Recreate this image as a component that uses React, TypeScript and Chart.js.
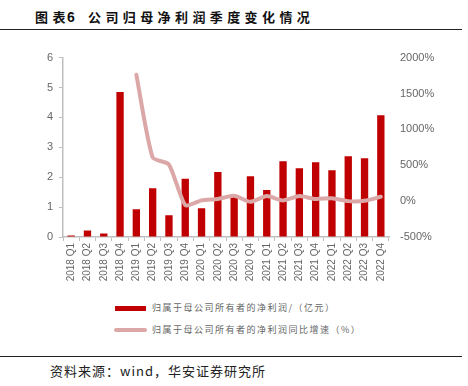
import React, { useEffect, useRef } from "react";
import { Chart, registerables } from "chart.js";

Chart.register(...registerables);

const categories = [
  "2018 Q1", "2018 Q2", "2018 Q3", "2018 Q4",
  "2019 Q1", "2019 Q2", "2019 Q3", "2019 Q4",
  "2020 Q1", "2020 Q2", "2020 Q3", "2020 Q4",
  "2021 Q1", "2021 Q2", "2021 Q3", "2021 Q4",
  "2022 Q1", "2022 Q2", "2022 Q3", "2022 Q4",
];
const netProfit = [
  0.05, 0.22, 0.12, 4.85,
  0.93, 1.63, 0.73, 1.95,
  0.96, 2.17, 1.35, 2.03,
  1.57, 2.53, 2.3, 2.5,
  2.23, 2.7, 2.63, 4.07,
];
const growthPct = [
  null, null, null, null,
  1760, 610, 510, -55,
  10, 30, 75, -10,
  70, 10, 70, 30,
  40, 0, 5, 60,
];
const leftTicks = { min: 0, max: 6, step: 1 };
const rightTicks = { min: -500, max: 2000, step: 500 };
const seriesNames = ["归属于母公司所有者的净利润/（亿元）", "归属于母公司所有者的净利润同比增速（%）"];

const BAR_COLOR = "#c00000";
const LINE_COLOR = "#dba7a7";
const AXIS_COLOR = "#bfbfbf";
const TICK_COLOR = "#666666";

export default function App() {
  const ref = useRef<HTMLCanvasElement | null>(null);
  useEffect(() => {
    if (!ref.current) return;
    const chart = new Chart(ref.current, {
      type: "bar",
      data: {
        labels: categories,
        datasets: [
          {
            type: "line",
            label: seriesNames[1],
            data: growthPct as any,
            yAxisID: "y1",
            borderColor: LINE_COLOR,
            borderWidth: 4,
            pointRadius: 0,
            tension: 0.2,
            borderCapStyle: "round",
            borderJoinStyle: "round",
            spanGaps: false,
            order: 0,
          } as any,
          {
            type: "bar",
            label: seriesNames[0],
            data: netProfit,
            yAxisID: "y",
            backgroundColor: BAR_COLOR,
            barPercentage: 0.45,
            categoryPercentage: 1,
            order: 1,
          },
        ],
      },
      options: {
        animation: false,
        responsive: false,
        maintainAspectRatio: false,
        layout: { padding: { top: 17, bottom: 0, left: 0, right: 0 } },
        plugins: { legend: { display: false }, tooltip: { enabled: false } },
        scales: {
          x: {
            offset: true,
            grid: { drawOnChartArea: false, drawTicks: true, tickLength: 4, color: AXIS_COLOR, offset: true },
            border: { display: true, color: AXIS_COLOR, width: 1.5 },
            ticks: {
              minRotation: 90,
              maxRotation: 90,
              autoSkip: false,
              color: TICK_COLOR,
              padding: 2,
              font: { family: "Liberation Sans, Arial, sans-serif", size: 10 },
            },
            afterFit: (s: any) => { s.height = 63; },
          },
          y: {
            position: "left",
            min: leftTicks.min,
            max: leftTicks.max,
            ticks: {
              stepSize: leftTicks.step,
              color: TICK_COLOR,
              padding: 6,
              font: { family: "Liberation Sans, Arial, sans-serif", size: 11 },
            },
            grid: { drawOnChartArea: false, drawTicks: true, tickLength: 4, color: AXIS_COLOR },
            border: { display: true, color: AXIS_COLOR, width: 1.5 },
            afterFit: (s: any) => { s.width = 43; },
          },
          y1: {
            position: "right",
            min: rightTicks.min,
            max: rightTicks.max,
            ticks: {
              stepSize: rightTicks.step,
              color: TICK_COLOR,
              padding: 11,
              font: { family: "Liberation Sans, Arial, sans-serif", size: 11 },
              callback: (v: any) => v + "%",
            },
            grid: { display: false, drawTicks: false },
            border: { display: false },
            afterFit: (s: any) => { s.width = 71; },
          },
        },
      },
    });
    return () => chart.destroy();
  }, []);

  const cjk = "'Noto Sans CJK SC', 'Noto Sans', sans-serif";
  const titleStyle: React.CSSProperties = { position: "absolute", top: 8, fontFamily: cjk, fontWeight: 700, fontSize: 13, letterSpacing: 4.4, color: "#111", whiteSpace: "nowrap", lineHeight: "18px" };
  return (
    <div style={{ position: "fixed", left: 0, top: 0, width: 468, height: 386, background: "#fff", overflow: "hidden" }}>
      <div style={{ ...titleStyle, left: 35 }}>图表</div>
      <div style={{ ...titleStyle, left: 67, fontFamily: "Liberation Sans, Arial, sans-serif", fontSize: 14 }}>6</div>
      <div style={{ ...titleStyle, left: 88 }}>公司归母净利润季度变化情况</div>
      <div style={{ position: "absolute", left: 0, top: 29, width: 462, height: 1, background: "#222" }} />
      <canvas ref={ref} width={440} height={260} style={{ position: "absolute", left: 20, top: 40, width: 440, height: 260 }} />
      <div style={{ position: "absolute", left: 115, top: 306, width: 31, height: 5, background: BAR_COLOR }} />
      <div style={{ position: "absolute", left: 152, top: 301, fontFamily: cjk, fontSize: 9, letterSpacing: 1.5, color: "#666", whiteSpace: "nowrap", lineHeight: "14px" }}>
        {seriesNames[0]}
      </div>
      <div style={{ position: "absolute", left: 114, top: 328, width: 33, height: 4, borderRadius: 2, background: LINE_COLOR }} />
      <div style={{ position: "absolute", left: 152, top: 323, fontFamily: cjk, fontSize: 9, letterSpacing: 1.5, color: "#666", whiteSpace: "nowrap", lineHeight: "14px" }}>
        {seriesNames[1]}
      </div>
      <div style={{ position: "absolute", left: 0, top: 356, width: 462, height: 1, background: "#222" }} />
      <div style={{ position: "absolute", left: 50, top: 362, fontFamily: cjk, fontSize: 13, letterSpacing: 1, color: "#222", whiteSpace: "nowrap", lineHeight: "17px" }}>
        资料来源：wind，华安证券研究所
      </div>
    </div>
  );
}
